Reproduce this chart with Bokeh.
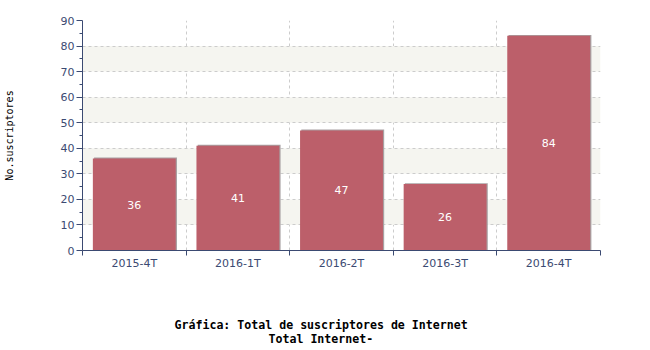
from bokeh.plotting import figure
from bokeh.models import (ColumnDataSource, FixedTicker, LabelSet, Range1d, Title)
from bokeh.core.properties import value
from bokeh.transform import dodge
from bokeh.embed import file_html
from bokeh.resources import INLINE

categories = ["2015-4T", "2016-1T", "2016-2T", "2016-3T", "2016-4T"]
values = [36, 41, 47, 26, 84]
y_ticks = [0, 10, 20, 30, 40, 50, 60, 70, 80, 90]
y_minor = [5, 15, 25, 35, 45, 55, 65, 75, 85]
title_lines = ["Gráfica: Total de suscriptores de Internet", "Total Internet-"]
y_label = "No.suscriptores"

n = len(categories)
xs = [i + 0.5 for i in range(n)]
src = ColumnDataSource(dict(x=xs, top=values, half=[v / 2 for v in values],
                            lab=[str(v) for v in values]))

p = figure(width=650, height=350, output_backend="svg", toolbar_location=None,
           x_range=Range1d(0, n), y_range=Range1d(0, 90),
           min_border_left=81, min_border_right=50, min_border_top=20,
           min_border_bottom=100)
p.outline_line_color = None
p.background_fill_color = "white"

axis_col = "#3B4A72"
xa = p.xaxis[0]
xa.ticker = FixedTicker(ticks=xs, minor_ticks=list(range(n + 1)))
xa.major_label_overrides = {x: c for x, c in zip(xs, categories)}
xa.major_tick_out = 0
xa.major_tick_in = 0
xa.minor_tick_out = 5
xa.minor_tick_in = 0
xa.axis_line_color = axis_col
xa.minor_tick_line_color = axis_col
xa.major_label_text_font = "DejaVu Sans"
xa.major_label_text_font_size = "11px"
xa.major_label_text_color = axis_col
xa.major_label_standoff = 1

ya = p.yaxis[0]
ya.ticker = FixedTicker(ticks=y_ticks, minor_ticks=y_minor)
ya.major_tick_out = 6
ya.major_tick_in = 0
ya.minor_tick_out = 3
ya.minor_tick_in = 0
ya.axis_line_color = axis_col
ya.major_tick_line_color = axis_col
ya.minor_tick_line_color = axis_col
ya.major_label_text_font = "DejaVu Sans"
ya.major_label_text_font_size = "11px"
ya.major_label_text_color = axis_col
ya.major_label_standoff = 2
ya.axis_label = y_label
ya.axis_label_text_font = "DejaVu Sans Mono"
ya.axis_label_text_font_size = "10px"
ya.axis_label_text_font_style = "normal"
ya.axis_label_text_color = "black"
ya.axis_label_standoff = 43

p.xgrid.ticker = FixedTicker(ticks=list(range(1, n + 1)))
p.xgrid.grid_line_color = "#CCCCCC"
p.xgrid.grid_line_dash = "3 3"
p.ygrid.ticker = FixedTicker(ticks=y_ticks)
p.ygrid.grid_line_color = "#CCCCCC"
p.ygrid.grid_line_dash = "3 3"
p.ygrid.band_fill_color = "#F5F5F0"
p.ygrid.band_fill_alpha = 1.0

p.vbar(x=dodge("x", 0.012, range=p.x_range), top=dodge("top", 0.35, range=p.y_range),
       width=0.8, bottom=0, source=src, fill_color="#A8A0A2", line_color=None)
p.vbar(x="x", top="top", width=0.8, bottom=0, source=src,
       fill_color="#BC5F6A", line_color=None)

p.add_layout(LabelSet(x="x", y="half", text="lab", source=src,
                      text_color="white", text_font=value("DejaVu Sans"),
                      text_font_size="11px", text_align="center",
                      text_baseline="middle"))

spacer = Title(text=" ", standoff=27, text_font_size="12px")
t1 = Title(text=title_lines[0], align="left", offset=92, standoff=0,
           text_font="DejaVu Sans Mono", text_font_size="11.6px",
           text_font_style="bold", text_color="black")
t2 = Title(text=title_lines[1], align="left", offset=186, standoff=0,
           text_font="DejaVu Sans Mono", text_font_size="11.6px",
           text_font_style="bold", text_color="black", vertical_align="top")
p.add_layout(spacer, "below")
p.add_layout(t1, "below")
p.add_layout(t2, "below")

open("out.html", "w").write(file_html(p, INLINE))
